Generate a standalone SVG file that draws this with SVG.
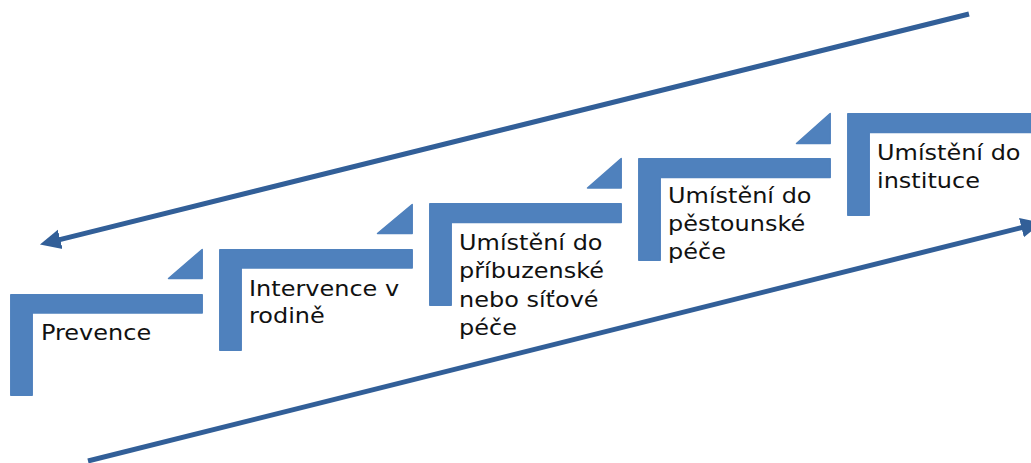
<svg xmlns="http://www.w3.org/2000/svg" width="1031" height="463" viewBox="0 0 1031 463">
<defs>
<style>
.step{fill:#4f81bd;stroke:#4f81bd;stroke-width:1.5;stroke-linejoin:round}
.lbl{font-family:"DejaVu Sans","Liberation Sans",sans-serif;font-size:22px;fill:#111}
.conn{stroke:#325f98;stroke-width:5;fill:none}
</style>
<marker id="ah" markerUnits="userSpaceOnUse" markerWidth="22" markerHeight="22" viewBox="0 0 20 18" refX="8" refY="9" orient="auto">
<path d="M0,0 L19,9 L0,18 Z" fill="#325f98"/>
</marker>
</defs>
<rect width="1031" height="463" fill="#fff"/>
<g id="connectors">
<line class="conn" x1="969" y1="14" x2="51.7" y2="241.6" marker-end="url(#ah)"/>
<line class="conn" x1="88" y1="461" x2="1030" y2="225.5" marker-end="url(#ah)"/>
</g>
<g id="step1">
<path class="step" d="M10.8,294.8 H202.2 V313 H32.2 V395.2 H10.8 Z"/>
<path class="step" d="M168.5,278.5 L202.2,249.5 V278.5 Z"/>
<g transform="translate(41,340) scale(1.09,1)"><text class="lbl">Prevence</text></g>
</g>
<g id="step2">
<path class="step" d="M219.8,249.8 H412.2 V268 H241.2 V350.2 H219.8 Z"/>
<path class="step" d="M377.5,233.5 L412.2,204.5 V233.5 Z"/>
<g transform="translate(249,296) scale(1.09,1)"><text class="lbl"><tspan x="0" y="0">Intervence v</tspan><tspan x="0" y="27.5">rodině</tspan></text></g>
</g>
<g id="step3">
<path class="step" d="M429.8,203.8 H621.2 V222.5 H451.2 V305.2 H429.8 Z"/>
<path class="step" d="M587.5,188 L621.2,158.5 V188 Z"/>
<g transform="translate(459,250) scale(1.09,1)"><text class="lbl"><tspan x="0" y="0">Umístění do</tspan><tspan x="0" y="28.3">příbuzenské</tspan><tspan x="0" y="56.6">nebo síťové</tspan><tspan x="0" y="84.9">péče</tspan></text></g>
</g>
<g id="step4">
<path class="step" d="M638.8,158.8 H830.2 V177.5 H660.2 V260.2 H638.8 Z"/>
<path class="step" d="M796.5,143.5 L830.2,113.5 V143.5 Z"/>
<g transform="translate(668,203) scale(1.09,1)"><text class="lbl"><tspan x="0" y="0">Umístění do</tspan><tspan x="0" y="28">pěstounské</tspan><tspan x="0" y="56">péče</tspan></text></g>
</g>
<g id="step5">
<path class="step" d="M847.8,113.8 H1040 V132.5 H869.2 V215.2 H847.8 Z"/>
<g transform="translate(877,160) scale(1.09,1)"><text class="lbl"><tspan x="0" y="0">Umístění do</tspan><tspan x="0" y="28">instituce</tspan></text></g>
</g>
</svg>
